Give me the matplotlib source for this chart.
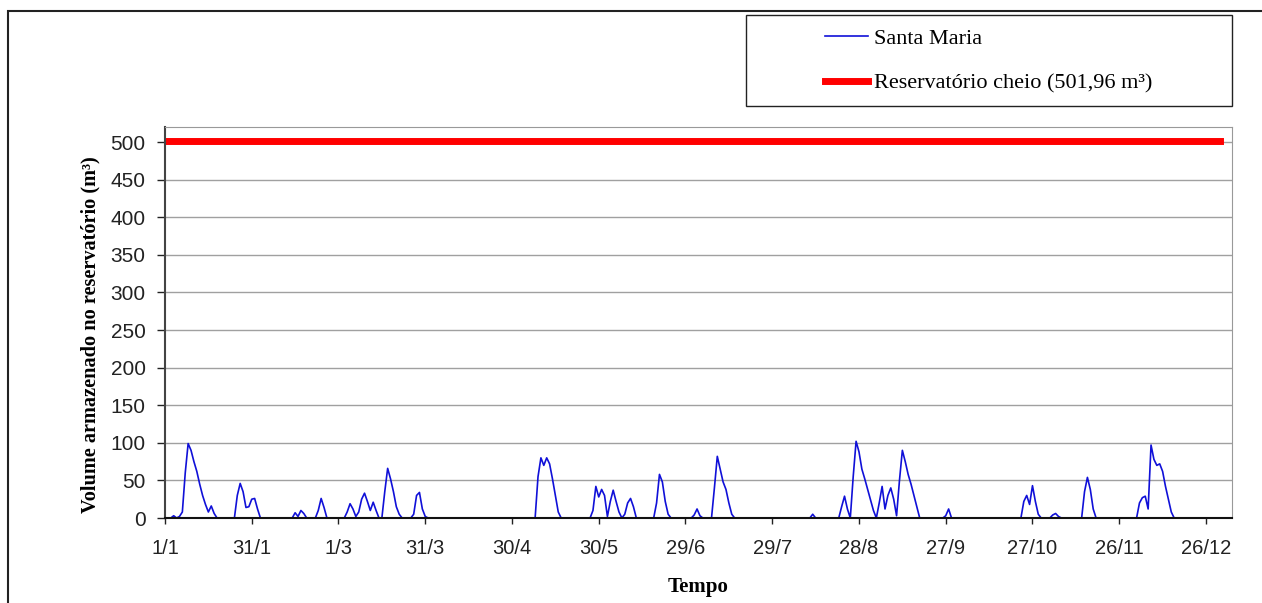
import matplotlib.pyplot as plt
from matplotlib.patches import Rectangle

# daily stored volume (m3), 366 days starting 1/1
santa_maria = [
    0, 0, 0, 3, 0, 2, 8, 60, 99, 90, 75, 62, 45, 30, 18, 8, 16, 6, 0, 0,
    0, 0, 0, 0, 0, 30, 46, 35, 14, 15, 25, 26, 12, 0, 0, 0, 0, 0, 0, 0,
    0, 0, 0, 0, 0, 7, 2, 10, 6, 0, 0, 0, 0, 10, 26, 14, 0, 0, 0, 0,
    0, 0, 0, 8, 19, 12, 2, 8, 25, 33, 22, 10, 21, 10, 0, 0, 35, 66, 52, 35,
    15, 5, 0, 0, 0, 0, 5, 30, 34, 12, 2, 0, 0, 0, 0, 0, 0, 0, 0, 0,
    0, 0, 0, 0, 0, 0, 0, 0, 0, 0, 0, 0, 0, 0, 0, 0, 0, 0, 0, 0,
    0, 0, 0, 0, 0, 0, 0, 0, 0, 55, 80, 70, 80, 72, 52, 30, 8, 0, 0, 0,
    0, 0, 0, 0, 0, 0, 0, 0, 10, 42, 28, 38, 30, 2, 22, 37, 22, 8, 0, 5,
    20, 26, 15, 0, 0, 0, 0, 0, 0, 0, 20, 58, 48, 22, 5, 0, 0, 0, 0, 0,
    0, 0, 0, 4, 12, 3, 0, 0, 0, 0, 40, 82, 65, 48, 38, 20, 5, 0, 0, 0,
    0, 0, 0, 0, 0, 0, 0, 0, 0, 0, 0, 0, 0, 0, 0, 0, 0, 0, 0, 0,
    0, 0, 0, 0, 5, 0, 0, 0, 0, 0, 0, 0, 0, 0, 15, 29, 12, 0, 55, 102,
    88, 65, 52, 38, 24, 10, 0, 20, 42, 12, 30, 40, 25, 3, 50, 90, 75, 58, 45, 30,
    15, 0, 0, 0, 0, 0, 0, 0, 0, 0, 3, 12, 0, 0, 0, 0, 0, 0, 0, 0,
    0, 0, 0, 0, 0, 0, 0, 0, 0, 0, 0, 0, 0, 0, 0, 0, 0, 22, 30, 18,
    43, 22, 5, 0, 0, 0, 0, 4, 6, 2, 0, 0, 0, 0, 0, 0, 0, 0, 35, 54,
    38, 12, 0, 0, 0, 0, 0, 0, 0, 0, 0, 0, 0, 0, 0, 0, 0, 20, 27, 29,
    12, 97, 78, 70, 72, 62, 42, 25, 8, 0, 0, 0, 0, 0, 0, 0, 0, 0, 0, 0,
    0, 0, 0, 0, 0, 0,
]
full_volume = 501.96
tick_labels = ['1/1', '31/1', '1/3', '31/3', '30/4', '30/5', '29/6',
               '29/7', '28/8', '27/9', '27/10', '26/11', '26/12']

days = list(range(len(santa_maria)))
full_line = [full_volume] * len(days)

fig = plt.figure(figsize=(12.62, 6.03), dpi=100)
ax = fig.add_axes([165/1262, 1 - 518/603, (1232-165)/1262, (518-127)/603])

ax.plot(days, santa_maria, color='#1010d8', lw=1.2, label='Santa Maria')
ax.plot(days, full_line, color='#ff0000', lw=5, label='Reservatório cheio (501,96 m³)')

ax.set_xlim(0, 369)
ax.set_ylim(0, 520)
ax.set_yticks(range(0, 501, 50))
ax.set_xticks(range(0, 361, 30))
ax.set_xticklabels(tick_labels)
ax.yaxis.grid(True, color='#a0a0a0', lw=1)
ax.set_axisbelow(True)

ax.tick_params(axis='y', length=6, width=1, pad=8, labelsize=15, colors='#222222')
ax.tick_params(axis='x', length=4, width=1, pad=11, labelsize=14.5, colors='#222222')
for lab in ax.get_xticklabels() + ax.get_yticklabels():
    lab.set_family('Liberation Sans')

ax.spines['left'].set_color('#444444')
ax.spines['left'].set_linewidth(1.5)
ax.spines['bottom'].set_color('#111111')
ax.spines['bottom'].set_linewidth(1.5)
ax.spines['top'].set_color('#999999')
ax.spines['right'].set_color('#999999')

ax.set_xlabel('Tempo', family='Liberation Serif', fontweight='bold', fontsize=15, labelpad=14)
ax.set_ylabel('Volume armazenado no reservatório (m³)', family='Liberation Serif',
              fontweight='bold', fontsize=14.6)
ax.yaxis.set_label_coords(-0.060, 0.47)

leg = ax.legend(loc='upper left', bbox_to_anchor=(825/1262, 1 - 28/603),
                bbox_transform=fig.transFigure, frameon=False, borderpad=0,
                borderaxespad=0, handlelength=1.95, handletextpad=0.27,
                labelspacing=1.1, prop={'family': 'Liberation Serif', 'size': 16})

# legend box and outer chart frame
fig.patches.append(Rectangle((746/1262, 1 - 106/603), 486/1262, 91/603,
                             transform=fig.transFigure, fill=False,
                             edgecolor='#222222', lw=1))
fig.patches.append(Rectangle((8/1262, -0.2), 1.2, 1.2 - 11/603,
                             transform=fig.transFigure, fill=False,
                             edgecolor='#222222', lw=1.5))

fig.savefig('out.png', dpi=100)
